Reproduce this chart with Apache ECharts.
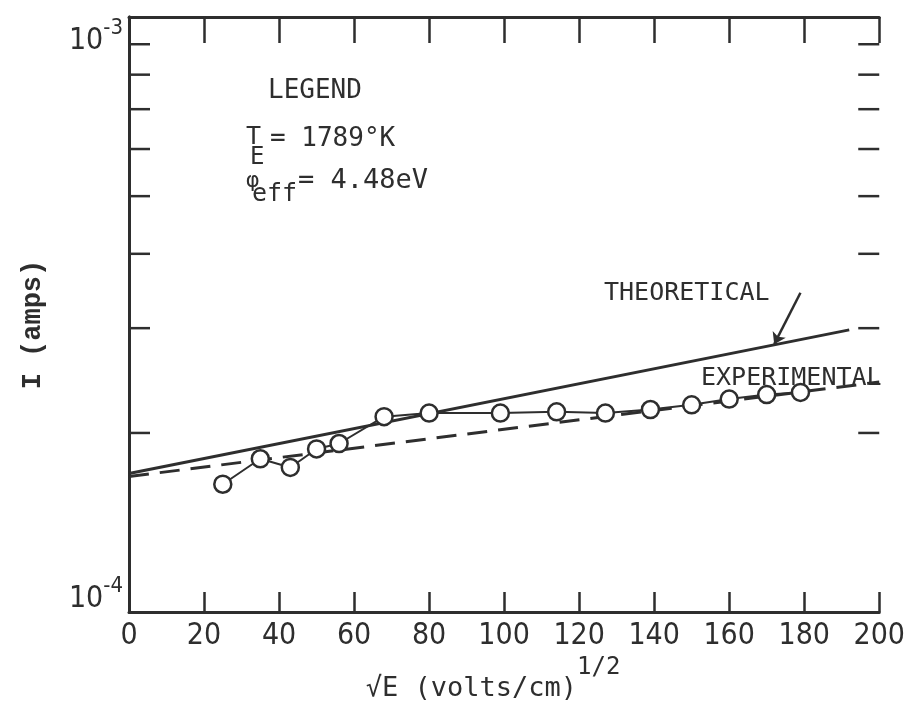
<!DOCTYPE html>
<html>
<head>
<meta charset="utf-8">
<script src="https://cdn.jsdelivr.net/npm/echarts@6/dist/echarts.min.js"></script>
<style>
html, body { margin: 0; background: #fff; }
#main { width: 908px; height: 707px; }
</style>
</head>
<body>
<div id="main"></div>
<script>
// measured current vs sqrt(E), (volts/cm)^1/2 and amps
var expX = [25, 35, 43, 50, 56, 68, 80, 99, 114, 127, 139, 150, 160, 170, 179];
var expI = [1.64e-4, 1.81e-4, 1.75e-4, 1.88e-4, 1.92e-4, 2.13e-4, 2.16e-4, 2.16e-4,
            2.17e-4, 2.16e-4, 2.19e-4, 2.23e-4, 2.28e-4, 2.32e-4, 2.34e-4];
// straight lines on the semi-log paper, only the end points
var theoX = [0, 192];
var theoI = [1.71e-4, 2.98e-4];
var fitX = [0, 200];
var fitI = [1.69e-4, 2.435e-4];
// arrow pointing at the theoretical line
var arrowX = [179, 172];
var arrowI = [3.44e-4, 2.82e-4];
// minor ticks of the log paper
var yMinor = [2e-4, 3e-4, 4e-4, 5e-4, 6e-4, 7e-4, 8e-4, 9e-4];

var ink = '#2e2e2e';
var tickFont = "'Liberation Sans Narrow', 'DejaVu Sans Condensed', sans-serif";
var mono = "'DejaVu Sans Mono', monospace";

function zip(xs, ys) {
    return xs.map(function (x, i) { return [x, ys[i]]; });
}

var myChart = echarts.init(document.getElementById('main'));

var option = {
    backgroundColor: '#fff',
    animation: false,
    grid: { left: 129, right: 18, top: 17, bottom: 81 },
    xAxis: [{
        type: 'value', min: 0, max: 200, interval: 20,
        name: '{a|√E (volts/cm)}{s|1/2}',
        nameLocation: 'middle', nameGap: 28,
        nameTextStyle: {
            color: ink,
            rich: {
                a: { fontSize: 27, fontFamily: mono, color: ink, padding: [19, 0, 0, 0] },
                s: { fontSize: 24, fontFamily: mono, color: ink, verticalAlign: 'top', padding: [0, 22, 0, 0] }
            }
        },
        axisLine: { lineStyle: { color: ink, width: 3 } },
        axisTick: { inside: true, length: 20, lineStyle: { color: ink, width: 2.5 } },
        axisLabel: { color: ink, fontSize: 30, fontFamily: tickFont, margin: 9 },
        splitLine: { show: false }
    }, {
        type: 'value', min: 0, max: 200, interval: 20, position: 'top',
        axisLine: { lineStyle: { color: ink, width: 3 } },
        axisTick: { inside: true, length: 26, lineStyle: { color: ink, width: 2.5 } },
        axisLabel: { show: false },
        splitLine: { show: false }
    }],
    yAxis: [{
        type: 'log', logBase: 10, min: 1e-4, max: 1e-3,
        name: 'I (amps)',
        nameLocation: 'middle', nameGap: 82,
        nameTextStyle: { color: ink, fontSize: 27, fontFamily: "'Liberation Mono', monospace", fontWeight: 'bold', padding: [0, 20, 0, 0] },
        axisLine: { lineStyle: { color: ink, width: 3 } },
        axisTick: { show: false },
        axisLabel: {
            margin: 6,
            // top label sits below the frame corner, bottom label above it
            formatter: function (v) {
                var p = Math.round(Math.log10(v));
                return p > -4 ? '{bt|10}{st|' + p + '}' : '{bb|10}{sb|' + p + '}';
            },
            rich: {
                bt: { fontSize: 30, fontFamily: tickFont, color: ink, verticalAlign: 'bottom', padding: [48, 0, 0, 0] },
                st: { fontSize: 22, fontFamily: tickFont, color: ink, verticalAlign: 'bottom', padding: [0, 0, 17, 0] },
                bb: { fontSize: 30, fontFamily: tickFont, color: ink, verticalAlign: 'bottom', padding: [0, 0, 34, 0] },
                sb: { fontSize: 22, fontFamily: tickFont, color: ink, verticalAlign: 'bottom', padding: [0, 0, 51, 0] }
            }
        },
        splitLine: { show: false }
    }, {
        type: 'log', logBase: 10, min: 1e-4, max: 1e-3, position: 'right',
        axisLine: { lineStyle: { color: ink, width: 3 } },
        axisTick: { show: false },
        axisLabel: { show: false },
        splitLine: { show: false }
    }],
    graphic: [
        { type: 'text', left: 268, top: 78, style: { text: 'LEGEND', fill: ink, font: '26px ' + mono } },
        { type: 'text', left: 246, top: 125, style: { text: 'T', fill: ink, font: '25px ' + mono } },
        { type: 'text', left: 250, top: 146, style: { text: 'E', fill: ink, font: '24px ' + mono } },
        { type: 'text', left: 270, top: 126, style: { text: '= 1789°K', fill: ink, font: '26px ' + mono } },
        { type: 'text', left: 246, top: 170, style: { text: 'φ', fill: ink, font: '22px ' + mono } },
        { type: 'text', left: 252, top: 182, style: { text: 'eff', fill: ink, font: '25px ' + mono } },
        { type: 'text', left: 298, top: 167, style: { text: '= 4.48eV', fill: ink, font: '27px ' + mono } },
        { type: 'text', left: 604, top: 281, style: { text: 'THEORETICAL', fill: ink, font: '25px ' + mono } },
        { type: 'text', left: 701, top: 366, style: { text: 'EXPERIMENTAL', fill: ink, font: '25px ' + mono } }
    ],
    series: [{
        // log paper minor ticks, left and right edges
        type: 'custom',
        silent: true,
        data: yMinor.map(function (v) { return [0, v]; }),
        renderItem: function (params, api) {
            var v = api.value(1);
            var l = api.coord([0, v]);
            var r = api.coord([200, v]);
            return {
                type: 'group',
                children: [
                    { type: 'line', shape: { x1: l[0], y1: l[1], x2: l[0] + 21, y2: l[1] }, style: { stroke: ink, lineWidth: 2.5 } },
                    { type: 'line', shape: { x1: r[0] - 21, y1: r[1], x2: r[0], y2: r[1] }, style: { stroke: ink, lineWidth: 2.5 } }
                ]
            };
        }
    }, {
        name: 'THEORETICAL',
        type: 'line',
        data: zip(theoX, theoI),
        symbol: 'none',
        lineStyle: { color: ink, width: 3 },
        markLine: {
            silent: true,
            symbol: ['none', 'arrow'],
            symbolSize: 11,
            label: { show: false },
            lineStyle: { color: ink, width: 2.5, type: 'solid' },
            data: [[{ coord: [arrowX[0], arrowI[0]] }, { coord: [arrowX[1], arrowI[1]] }]]
        }
    }, {
        name: 'EXPERIMENTAL',
        type: 'line',
        data: zip(fitX, fitI),
        symbol: 'none',
        lineStyle: { color: ink, width: 3, type: [20, 11] }
    }, {
        name: 'data',
        type: 'line',
        data: zip(expX, expI),
        symbol: 'circle',
        symbolSize: 17,
        itemStyle: { color: '#fff', borderColor: ink, borderWidth: 2.5 },
        lineStyle: { color: ink, width: 2 },
        z: 5
    }]
};

myChart.setOption(option);
</script>
</body>
</html>
